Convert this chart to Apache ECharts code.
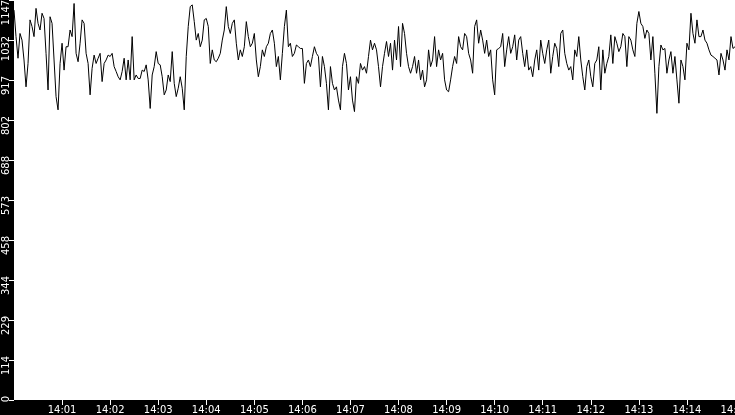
<!DOCTYPE html>
<html>
<head>
<meta charset="utf-8">
<script src="https://cdn.jsdelivr.net/npm/echarts@6/dist/echarts.min.js"></script>
<style>
  html, body { margin: 0; padding: 0; background: #000; }
  #chart { width: 735px; height: 415px; }
</style>
</head>
<body>
<div id="chart"></div>
<script>
(function () {
  // time range of the trace: 14:00 .. 14:15, one sample every 2.5 s
  var startTime = new Date(2020, 0, 1, 14, 0, 0).getTime();
  var endTime = new Date(2020, 0, 1, 14, 15, 0).getTime();
  var stepMs = 2500;
  var tickMs = 60000;

  var yMax = 1147;
  var yStep = 114.7;

  // sample values (14:00 -> 14:15)
  var values = [
    1118, 1042, 980, 1051, 1032, 975, 898, 965, 1090, 1071, 1042, 1123, 1080, 1061, 1109, 1094,
    994, 889, 1099, 1080, 975, 870, 832, 965, 1023, 946, 1013, 1013, 1061, 1042, 1137, 994,
    970, 1023, 1090, 1080, 994, 965, 875, 951, 989, 965, 980, 994, 913, 965, 975, 989,
    985, 994, 956, 942, 927, 918, 942, 980, 918, 975, 918, 1042, 918, 932, 922, 922,
    946, 942, 961, 918, 836, 932, 956, 999, 965, 961, 927, 875, 889, 932, 913, 999,
    908, 870, 894, 927, 894, 832, 985, 1071, 1128, 1133, 1085, 1032,
    1051, 1013, 1032, 1090, 1094, 1071, 965, 1004, 975, 970, 980, 994, 1032, 1061, 1128, 1071,
    1051, 1080, 1090, 1023, 975, 1004, 985, 1013, 1085, 1042, 1013, 1023, 1051, 975, 927, 956,
    1004, 985, 1013, 1023, 1051, 1061, 1023, 956, 985, 918, 994, 1071, 1118, 1013, 1023, 985,
    994, 1018, 1013, 1008, 1008, 908, 965, 975, 956, 985, 1013, 994, 985, 898, 985, 956,
    908, 832, 956, 908, 889, 898, 860, 832, 956, 994, 965, 889, 927, 860, 827, 927,
    908, 965, 946, 956, 937, 985, 1032, 1004, 1023, 1004,
    956, 898, 956, 994, 1028, 985, 1023, 946, 1032, 975, 1071, 956, 1080, 1051, 994, 956,
    937, 956, 985, 937, 975, 918, 946, 898, 918, 1004, 956, 975, 1042, 956, 1004, 975,
    994, 918, 889, 884, 918, 956, 985, 965, 1042, 1013, 1004, 1051, 1042, 994, 975, 937,
    1071, 1090, 1023, 1061, 1032, 994, 1032, 985, 1004, 918, 875, 1004, 1008, 1013, 1051, 956,
    1004, 1042, 994, 1013, 1047, 975, 1032, 1042, 994, 956, 1004, 946, 956, 927, 975, 1004,
    946, 1032, 994, 965, 1004, 1032, 937, 985, 1023, 1008,
    956, 1051, 1061, 994, 965, 946, 956, 918, 1004, 985, 1042, 975, 927, 889, 956, 975,
    927, 898, 965, 975, 1013, 889, 1004, 937, 965, 985, 1047, 965, 1042, 1023, 999, 1013,
    1051, 1042, 956, 1042, 1032, 1004, 985, 1080, 1114, 1080, 1071, 1037, 1061, 1051, 975, 1042,
    937, 822, 956, 1018, 1004, 1008, 937, 975, 999, 937, 985, 918, 851, 975, 956, 918,
    1023, 1004, 1109, 1051, 1023, 1090, 1042, 1042, 1061, 1032, 1023, 1004, 989, 985, 980, 975,
    932, 994, 975, 946, 1004, 975, 1042, 1008, 1013
  ];

  var seriesData = values.map(function (v, i) {
    return [startTime + i * stepMs, v];
  });

  function pad(n) { return n < 10 ? '0' + n : '' + n; }

  var labelFont = { color: '#fff', fontSize: 10, fontFamily: 'DejaVu Sans' };

  var myChart = echarts.init(document.getElementById('chart'));
  var option = {
    animation: false,
    backgroundColor: '#000',
    grid: {
      show: true,
      backgroundColor: '#fff',
      borderWidth: 0,
      left: 14,
      right: 0,
      top: 0,
      bottom: 15,
      containLabel: false,
      outerBoundsMode: 'none'
    },
    xAxis: {
      type: 'value',
      min: startTime,
      max: endTime,
      interval: tickMs,
      axisLine: { show: false },
      axisTick: { show: true, length: 5, lineStyle: { color: '#fff', width: 1 } },
      splitLine: { show: false },
      axisLabel: {
        color: '#fff',
        fontSize: 10,
        fontFamily: 'DejaVu Sans',
        margin: 5,
        interval: 0,
        showMinLabel: false,
        showMaxLabel: true,
        hideOverlap: false,
        formatter: function (v) {
          var d = new Date(v);
          return pad(d.getHours()) + ':' + pad(d.getMinutes());
        }
      }
    },
    yAxis: {
      type: 'value',
      min: 0,
      max: yMax,
      interval: yStep,
      axisLine: { show: false },
      axisTick: { show: true, length: 5, lineStyle: { color: '#fff', width: 1 } },
      splitLine: { show: false },
      axisLabel: {
        rotate: 90,
        color: '#fff',
        fontSize: 10,
        fontFamily: 'DejaVu Sans',
        margin: 3,
        interval: 0,
        showMinLabel: true,
        showMaxLabel: true,
        hideOverlap: false,
        formatter: function (v) {
          var s = String(Math.floor(v + 1e-6));
          if (Math.abs(v - yMax) < 1e-6) return '{top|' + s + '}';
          return '{n' + s.length + '|' + s + '}';
        },
        rich: {
          n1: Object.assign({ padding: [0, 0, 0, 2] }, labelFont),
          n3: Object.assign({ padding: [0, 11, 0, 0] }, labelFont),
          n4: Object.assign({ padding: [0, 17, 0, 0] }, labelFont),
          top: Object.assign({ padding: [0, 25, 0, 0] }, labelFont)
        }
      }
    },
    series: [
      {
        type: 'line',
        data: seriesData,
        showSymbol: false,
        symbol: 'none',
        lineStyle: { color: '#000', width: 1 },
        emphasis: { disabled: true }
      }
    ]
  };
  myChart.setOption(option);
  window.addEventListener('resize', function () {
    myChart.resize();
  });
})();
</script>
</body>
</html>
